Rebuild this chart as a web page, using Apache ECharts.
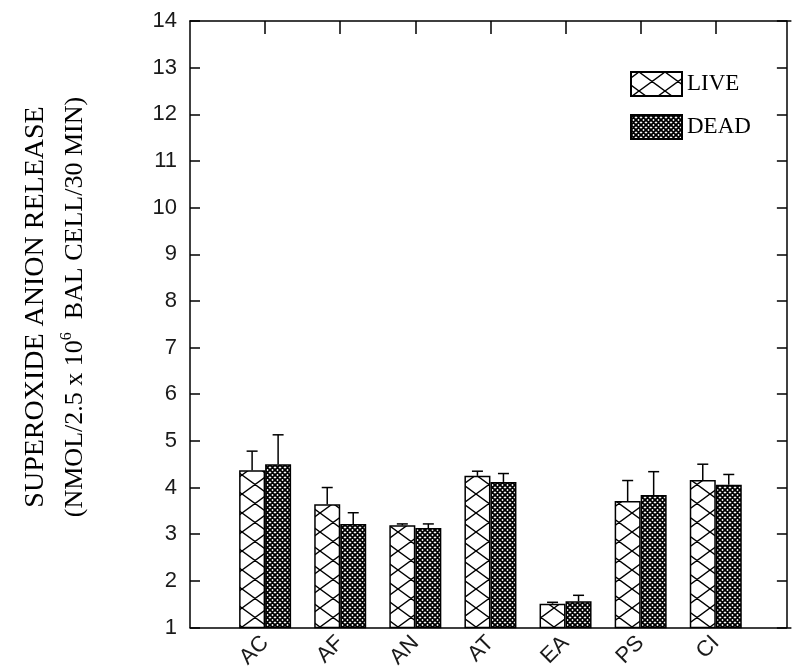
<!DOCTYPE html>
<html>
<head>
<meta charset="utf-8">
<script src="https://cdn.jsdelivr.net/npm/echarts@6/dist/echarts.min.js"></script>
<style>
   html, body { margin: 0; padding: 0; background: #ffffff; }
   #grafica { width: 793px; height: 671px; }
</style>
</head>
<body>
<div id="grafica"></div>
<script>
// ── Datos (ranura vacía en cada extremo: el eje va de 0 a 8) ────────────────
const categorias = ["", "AC", "AF", "AN", "AT", "EA", "PS", "CI", ""];
const valoresLive = ["-", 4.37, 3.64, 3.19, 4.25, 1.51, 3.71, 4.16, "-"];
const valoresDead = ["-", 4.50, 3.22, 3.13, 4.12, 1.56, 3.84, 4.06, "-"];
const erroresLive = [0, 0.41, 0.36, 0.03, 0.10, 0.03, 0.44, 0.34, 0];
const erroresDead = [0, 0.63, 0.24, 0.09, 0.18, 0.13, 0.50, 0.22, 0];
const ejeYMin = 1;
const ejeYMax = 14;

const tituloY1 = "SUPEROXIDE ANION RELEASE";
const tituloY2 = "{t|(NMOL/2.5 x 10}{s|6}{t|  BAL CELL/30 MIN)}";

// ── Estilos ─────────────────────────────────────────────────────────────────
const negro = "#000000";
const fuenteSans = "'Liberation Sans', Arial, sans-serif";
const fuenteSerif = "'Liberation Serif', 'Times New Roman', serif";
const anchoBarra = 26;

// tramado grande en rombos (LIVE); cruce centrado en x=21 para caer a mitad de barra
const fnPatronLive = () => {
   const lienzo = document.createElement("canvas");
   const w = 26, h = 19, cx = 21;
   lienzo.width = w; lienzo.height = h;
   const ctx = lienzo.getContext("2d");
   ctx.fillStyle = "#ffffff";
   ctx.fillRect(0, 0, w, h);
   ctx.strokeStyle = negro;
   ctx.lineWidth = 1.4;
   ctx.beginPath();
   for (let dx = -w; dx <= w; dx += w) {
      for (let dy = -h; dy <= h; dy += h) {
         const x0 = cx + dx;
         ctx.moveTo(x0 - w / 2, dy); ctx.lineTo(x0 + w / 2, dy + h);
         ctx.moveTo(x0 + w / 2, dy); ctx.lineTo(x0 - w / 2, dy + h);
      }
   }
   ctx.stroke();
   return lienzo;
};

// tramado fino y denso (DEAD)
const fnPatronDead = () => {
   const lienzo = document.createElement("canvas");
   const p = 5;
   lienzo.width = p; lienzo.height = p;
   const ctx = lienzo.getContext("2d");
   ctx.fillStyle = "#ffffff";
   ctx.fillRect(0, 0, p, p);
   ctx.strokeStyle = negro;
   ctx.lineWidth = 1.9;
   ctx.beginPath();
   for (let k = -1; k <= 1; k++) {
      ctx.moveTo(-1, -1 + k * p); ctx.lineTo(p + 1, p + 1 + k * p);
      ctx.moveTo(-1, p + 1 + k * p); ctx.lineTo(p + 1, -1 + k * p);
   }
   ctx.stroke();
   return lienzo;
};

const fnSerieBarra = (nombre, valores, patron) => ({
   name: nombre,
   type: "bar",
   barWidth: anchoBarra,
   barGap: "0%",
   data: valores,
   itemStyle: {
      color: { image: patron, repeat: "repeat" },
      borderColor: negro,
      borderWidth: 1.5
   },
   z: 2
});

const fnSerieError = (valores, errores, desplazamiento) => ({
   type: "custom",
   z: 3,
   data: valores
      .map((v, i) => (v === "-" ? null : [i, v, v + errores[i]]))
      .filter(item => item !== null),
   encode: { x: 0, y: [1, 2] },
   renderItem: (params, api) => {
      const base = api.coord([api.value(0), api.value(1)]);
      const tope = api.coord([api.value(0), api.value(2)]);
      const x = base[0] + desplazamiento;
      const trazo = { stroke: negro, lineWidth: 1.5 };
      return {
         type: "group",
         children: [
            { type: "line", shape: { x1: x, y1: base[1], x2: x, y2: tope[1] }, style: trazo },
            { type: "line", shape: { x1: x - 5.5, y1: tope[1], x2: x + 5.5, y2: tope[1] }, style: trazo }
         ]
      };
   }
});

const ejeYBase = {
   type: "value",
   min: ejeYMin,
   max: ejeYMax,
   interval: 1,
   axisLine: { show: true, lineStyle: { color: negro, width: 1.5 } },
   axisTick: { show: true, inside: true, length: 10, lineStyle: { color: negro, width: 1.5 } },
   splitLine: { show: false }
};

const grafica = echarts.init(document.getElementById("grafica"));

grafica.setOption({
   animation: false,
   backgroundColor: "#ffffff",
   grid: { left: 190, top: 21, width: 616, height: 613 },
   legend: {
      data: ["LIVE", "DEAD"],
      orient: "vertical",
      left: 630,
      top: 71,
      padding: 0,
      icon: "rect",
      itemWidth: 51,
      itemHeight: 24,
      itemGap: 17,
      textStyle: { fontFamily: fuenteSerif, fontSize: 23, color: negro }
   },
   xAxis: [
      {
         type: "category",
         data: categorias,
         boundaryGap: false,
         position: "bottom",
         axisLine: { lineStyle: { color: negro, width: 1.5 } },
         axisTick: { show: false },
         splitLine: { show: false },
         axisLabel: {
            interval: 0,
            rotate: 45,
            margin: 12,
            fontFamily: fuenteSans,
            fontSize: 22,
            color: "#1a1a1a"
         }
      },
      {
         type: "category",
         data: categorias,
         boundaryGap: false,
         position: "top",
         axisLine: { lineStyle: { color: negro, width: 1.5 } },
         axisTick: {
            inside: true,
            length: 13,
            interval: (indice) => indice >= 1 && indice <= 7,
            lineStyle: { color: negro, width: 1.5 }
         },
         axisLabel: { show: false },
         splitLine: { show: false }
      }
   ],
   yAxis: [
      {
         ...ejeYBase,
         position: "left",
         axisLabel: { margin: 13, fontFamily: fuenteSans, fontSize: 22, color: "#1a1a1a" }
      },
      {
         ...ejeYBase,
         position: "right",
         offset: -4,
         axisLabel: { show: false }
      }
   ],
   graphic: [
      {
         type: "text",
         x: 36,
         y: 307,
         rotation: Math.PI / 2,
         style: {
            text: tituloY1,
            font: "28px " + fuenteSerif,
            fill: negro,
            align: "center",
            verticalAlign: "middle"
         }
      },
      {
         type: "text",
         x: 75,
         y: 307,
         rotation: Math.PI / 2,
         style: {
            text: tituloY2,
            fill: negro,
            align: "center",
            verticalAlign: "middle",
            rich: {
               t: { fontFamily: fuenteSerif, fontSize: 26, lineHeight: 30 },
               s: { fontFamily: fuenteSerif, fontSize: 16, verticalAlign: "bottom", padding: [0, 0, 16, 0] }
            }
         }
      }
   ],
   series: [
      fnSerieBarra("LIVE", valoresLive, fnPatronLive()),
      fnSerieBarra("DEAD", valoresDead, fnPatronDead()),
      fnSerieError(valoresLive, erroresLive, -anchoBarra / 2),
      fnSerieError(valoresDead, erroresDead, anchoBarra / 2)
   ]
});
</script>
</body>
</html>
